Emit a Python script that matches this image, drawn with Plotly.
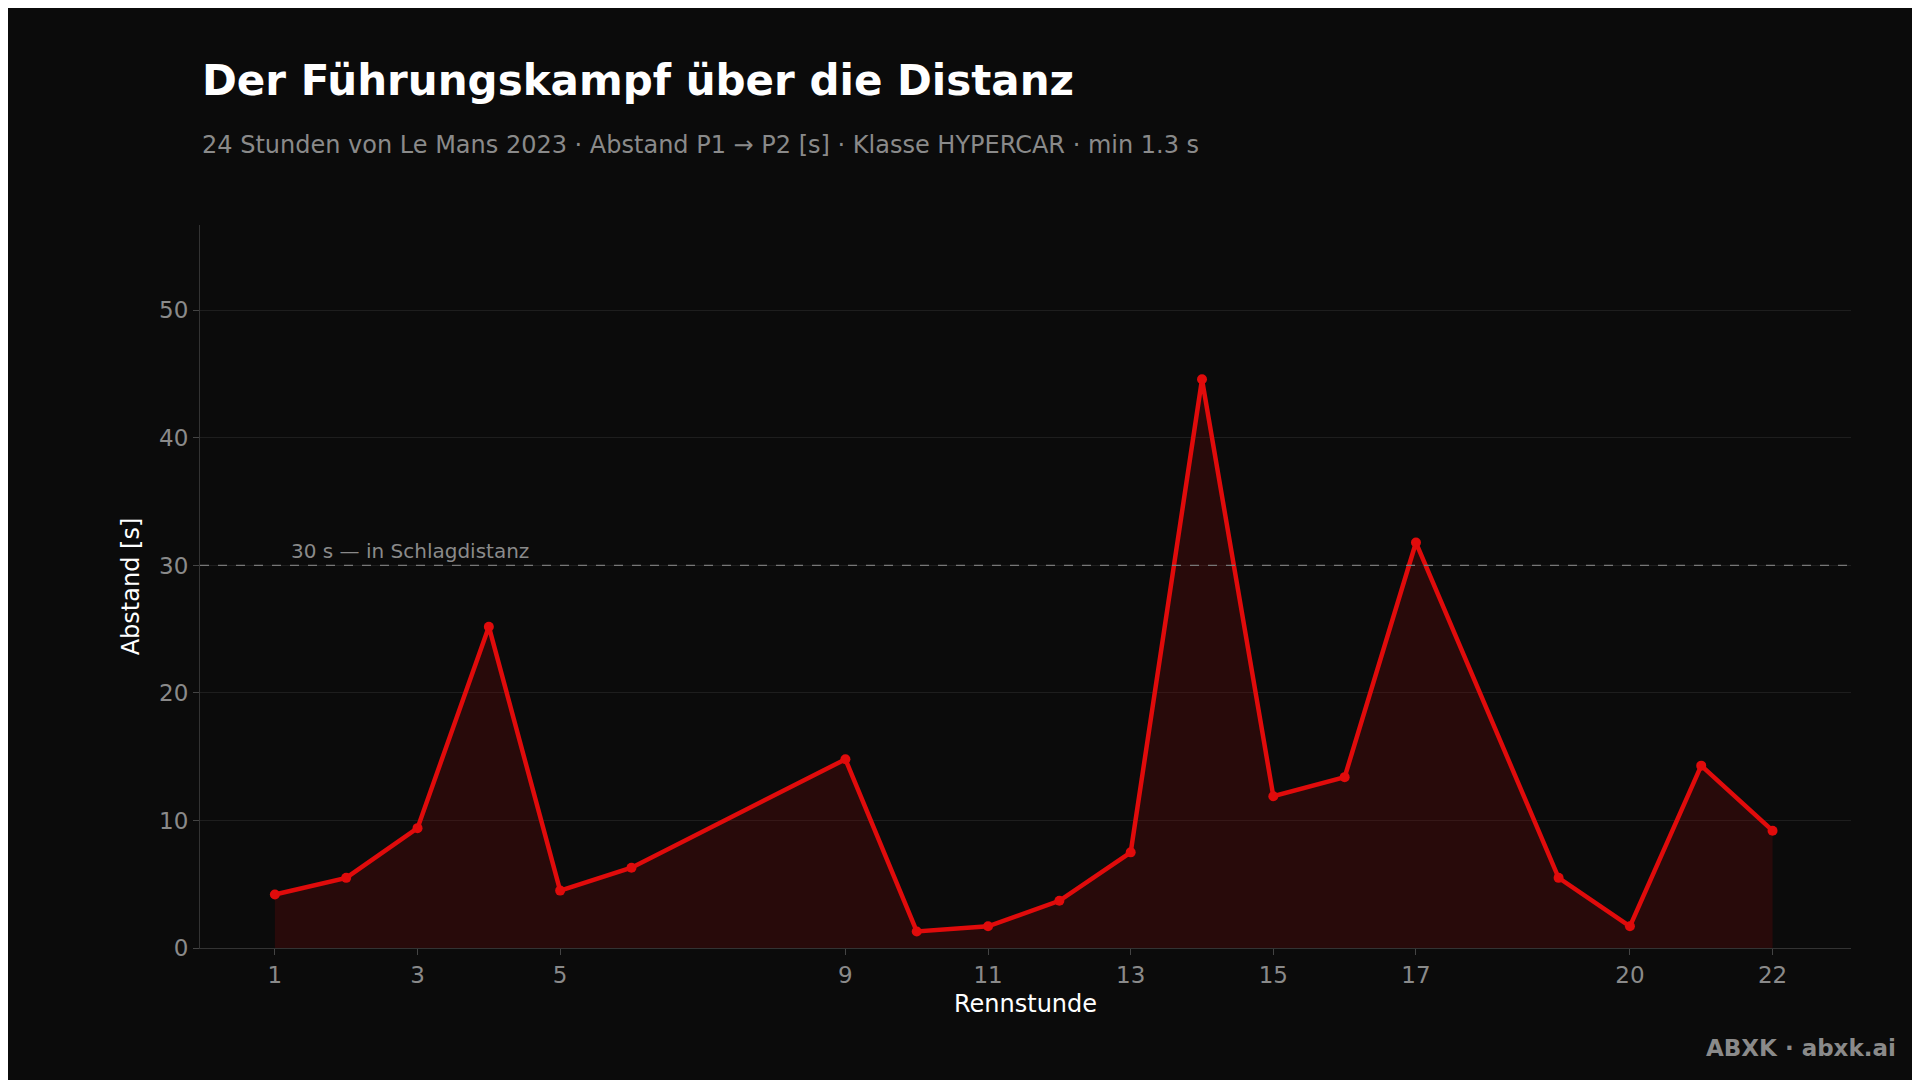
import plotly.graph_objects as go

hours = [1, 2, 3, 4, 5, 6, 9, 10, 11, 12, 13, 14, 15, 16, 17, 19, 20, 21, 22]
gap_s = [4.2, 5.5, 9.4, 25.2, 4.5, 6.3, 14.8, 1.3, 1.7, 3.7, 7.5, 44.6, 11.9, 13.4, 31.8, 5.5, 1.7, 14.3, 9.2]
tick_hours = [1, 3, 5, 9, 11, 13, 15, 17, 20, 22]
threshold = 30

bg = "#0b0b0b"
red = "#e00b0b"

fig = go.Figure()
fig.add_trace(go.Scatter(
    x=hours, y=gap_s, mode="lines+markers",
    line=dict(color=red, width=4.5),
    marker=dict(size=10, color=red),
    fill="tozeroy", fillcolor="rgba(120,10,10,0.28)",
    hoverinfo="x+y", showlegend=False,
))
fig.add_hline(y=threshold, line=dict(color="#777", width=1.2, dash="dash"))
fig.add_annotation(x=1.2, y=threshold, text="30 s — in Schlagdistanz", showarrow=False,
                   xanchor="left", yanchor="bottom", font=dict(size=20, color="#8a8a8a"))

fig.update_layout(
    width=1920, height=1080,
    paper_bgcolor=bg, plot_bgcolor=bg,
    font=dict(family="DejaVu Sans", color="#8a8a8a"),
    margin=dict(l=192, r=77, t=217, b=140),
    xaxis=dict(
        range=[-0.05, 23.1], tickvals=tick_hours, ticks="outside", ticklen=6,
        tickcolor="#444", showgrid=False, zeroline=False,
        showline=True, linecolor="#333", tickfont=dict(size=23),
        title=dict(text="Rennstunde", font=dict(size=24, color="#ffffff"), standoff=8),
    ),
    yaxis=dict(
        range=[0, 56.7], dtick=10, ticks="outside", ticklen=6, tickcolor="#444",
        gridcolor="#1e1e1e", zeroline=False, showline=True, linecolor="#333",
        tickfont=dict(size=23),
        title=dict(text="Abstand [s]", font=dict(size=24, color="#ffffff"), standoff=12),
    ),
)
# title + subtitle as paper annotations for exact placement
fig.add_annotation(x=0, y=1, xref="paper", yref="paper", xanchor="left", yanchor="middle",
                   yshift=145, text="<b>Der Führungskampf über die Distanz</b>", showarrow=False,
                   font=dict(size=42, color="#ffffff"))
fig.add_annotation(x=0, y=1, xref="paper", yref="paper", xanchor="left", yanchor="middle",
                   yshift=80, showarrow=False,
                   text="24 Stunden von Le Mans 2023 · Abstand P1 → P2 [s] · Klasse HYPERCAR · min 1.3 s",
                   font=dict(size=24, color="#8a8a8a"))
fig.add_annotation(x=1, y=0, xref="paper", yref="paper", xanchor="right", yanchor="top",
                   xshift=47, yshift=-85, text="<b>ABXK · abxk.ai</b>", showarrow=False,
                   font=dict(size=23, color="#8a8a8a"))

fig.write_html("out.html")
